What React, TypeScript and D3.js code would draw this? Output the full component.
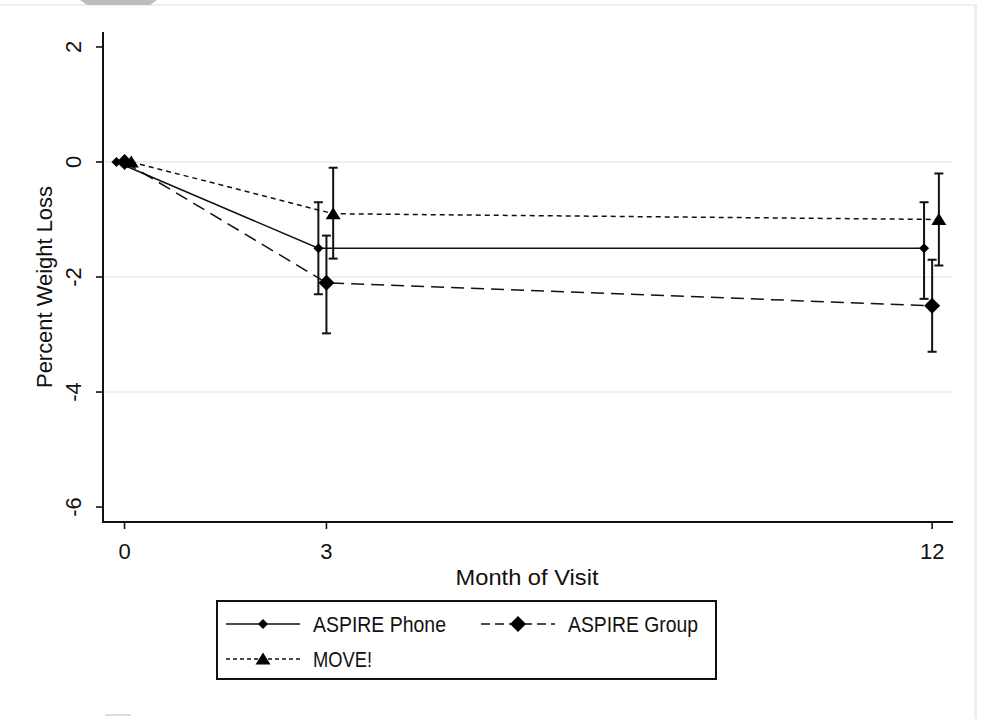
import React from "react";
import * as d3 from "d3";

const months = [0, 3, 12];
const seriesNames = ["ASPIRE Phone", "ASPIRE Group", "MOVE!"];
const phoneMean = [0, -1.5, -1.5];
const phoneLow = [0, -2.3, -2.38];
const phoneHigh = [0, -0.7, -0.7];
const groupMean = [0, -2.1, -2.5];
const groupLow = [0, -2.98, -3.3];
const groupHigh = [0, -1.28, -1.7];
const moveMean = [0, -0.9, -1.0];
const moveLow = [0, -1.68, -1.8];
const moveHigh = [0, -0.1, -0.2];
const jitter = [-0.12, 0, 0.1];
const yTicks = [2, 0, -2, -4, -6];
const gridTicks = [0, -2, -4];

const W = 981;
const H = 719;
const font = "'Liberation Sans', Arial, sans-serif";

const x = d3.scaleLinear().domain([-0.32, 12.31]).range([103, 953]);
const y = d3.scaleLinear().domain([2.26, -6.26]).range([32, 522]);

const series = [
  { name: seriesNames[0], mean: phoneMean, low: phoneLow, high: phoneHigh, dash: "none", legDash: "none", marker: "smallDiamond", len: 133 },
  { name: seriesNames[1], mean: groupMean, low: groupLow, high: groupHigh, dash: "13,7", legDash: "9,5", marker: "diamond", len: 130 },
  { name: seriesNames[2], mean: moveMean, low: moveLow, high: moveHigh, dash: "5,4", legDash: "4,3", marker: "triangle", len: 59 },
];

function Marker({ type, cx, cy }: { type: string; cx: number; cy: number }) {
  if (type === "smallDiamond") {
    const r = 5;
    return <path d={`M${cx},${cy - r}L${cx + r},${cy}L${cx},${cy + r}L${cx - r},${cy}Z`} fill="#000" />;
  }
  if (type === "diamond") {
    const r = 8;
    return <path d={`M${cx},${cy - r}L${cx + r},${cy}L${cx},${cy + r}L${cx - r},${cy}Z`} fill="#000" />;
  }
  return <path d={`M${cx},${cy - 6.5}L${cx + 7.5},${cy + 5.5}L${cx - 7.5},${cy + 5.5}Z`} fill="#000" />;
}

export default function App() {
  const line = d3.line<number>();

  return (
    <svg width={W} height={H} style={{ position: "absolute", left: 0, top: 0, background: "#fff" }}>
      {/* page frame */}
      <rect x={0} y={4} width={976} height={2} fill="#eaf1f3" />
      <rect x={974} y={4} width={3} height={H} fill="#eaf1f3" />
      <path d="M80,0H157L150,5H87Z" fill="#bdbdbd" />
      <rect x={105} y={714} width={26} height={2} fill="#ddd" />

      {/* grid */}
      {gridTicks.map((t) => (
        <line key={t} x1={104} x2={953} y1={y(t)} y2={y(t)} stroke="#e6eef1" strokeWidth={1.5} />
      ))}

      {/* axes */}
      <line x1={103} x2={103} y1={32} y2={523} stroke="#111" strokeWidth={2} />
      <line x1={102} x2={953} y1={522} y2={522} stroke="#111" strokeWidth={2} />
      {yTicks.map((t) => (
        <g key={t}>
          <line x1={96} x2={103} y1={y(t)} y2={y(t)} stroke="#111" strokeWidth={1.6} />
          <text
            transform={`translate(${81},${y(t)}) rotate(-90)`}
            textAnchor="middle"
            fontFamily={font}
            fontSize={22}
            fill="#111"
          >
            {t}
          </text>
        </g>
      ))}
      {months.map((m) => (
        <g key={m}>
          <line x1={x(m)} x2={x(m)} y1={522} y2={529} stroke="#111" strokeWidth={1.6} />
          <text x={x(m)} y={559} textAnchor="middle" fontFamily={font} fontSize={22} fill="#111">
            {m}
          </text>
        </g>
      ))}
      <text
        x={527}
        y={585}
        textAnchor="middle"
        fontFamily={font}
        fontSize={22}
        fill="#111"
        textLength={143}
        lengthAdjust="spacingAndGlyphs"
      >
        Month of Visit
      </text>
      <text
        transform={`translate(${52},${287}) rotate(-90)`}
        textAnchor="middle"
        fontFamily={font}
        fontSize={22}
        fill="#111"
        textLength={202}
        lengthAdjust="spacingAndGlyphs"
      >
        Percent Weight Loss
      </text>

      {/* series */}
      {series.map((s, si) => {
        const xs = months.map((m) => x(m + jitter[si]));
        const d = line.x((_, i) => xs[i]).y((v) => y(v))(s.mean) as string;
        return (
          <g key={s.name}>
            <path d={d} fill="none" stroke="#111" strokeWidth={1.5} strokeDasharray={s.dash} />
            {months.map((m, i) =>
              i === 0 ? null : (
                <g key={m} stroke="#111" strokeWidth={2}>
                  <line x1={xs[i]} x2={xs[i]} y1={y(s.low[i])} y2={y(s.high[i])} />
                  <line x1={xs[i] - 4.5} x2={xs[i] + 4.5} y1={y(s.low[i])} y2={y(s.low[i])} />
                  <line x1={xs[i] - 4.5} x2={xs[i] + 4.5} y1={y(s.high[i])} y2={y(s.high[i])} />
                </g>
              )
            )}
            {months.map((m, i) => (
              <Marker key={m} type={s.marker} cx={xs[i]} cy={y(s.mean[i])} />
            ))}
          </g>
        );
      })}

      {/* legend */}
      <rect x={217} y={601} width={499} height={78} fill="#fff" stroke="#111" strokeWidth={2} />
      {series.map((s, i) => {
        const col = i === 1 ? 1 : 0;
        const row = i === 2 ? 1 : 0;
        const lx = col === 0 ? 226 : 481;
        const ly = row === 0 ? 624 : 659;
        return (
          <g key={s.name}>
            <line x1={lx} x2={lx + 74} y1={ly} y2={ly} stroke="#111" strokeWidth={1.5} strokeDasharray={s.legDash} />
            <Marker type={s.marker} cx={lx + 37} cy={ly} />
            <text
              x={lx + 87}
              y={ly + 8}
              fontFamily={font}
              fontSize={22}
              fill="#111"
              textLength={s.len}
              lengthAdjust="spacingAndGlyphs"
            >
              {s.name}
            </text>
          </g>
        );
      })}
    </svg>
  );
}
